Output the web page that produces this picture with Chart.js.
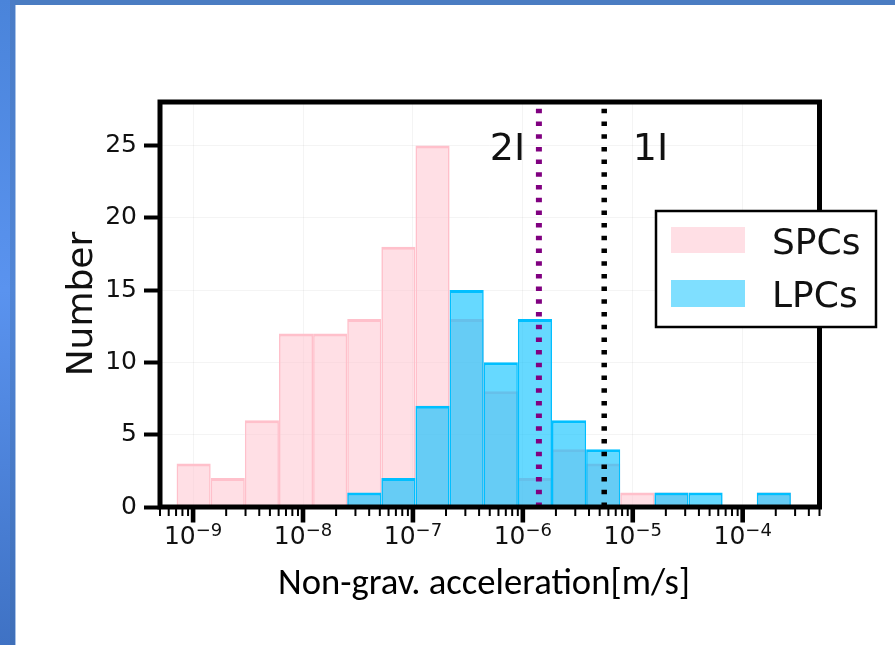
<!DOCTYPE html>
<html>
<head>
<meta charset="utf-8">
<script src="https://cdn.jsdelivr.net/npm/chart.js@4"></script>
<style>
  html, body { margin: 0; padding: 0; }
  body { width: 895px; height: 645px; position: relative; overflow: hidden; background: #fff; }
  #topBand { position: absolute; left: 0; top: 0; width: 895px; height: 5px; background: #4a7cc2; }
  #leftBand { position: absolute; left: 0; top: 0; width: 10px; height: 645px; background: linear-gradient(#4a84da, #5a93ef 45%, #3f72c4); }
  #leftEdge { position: absolute; left: 10px; top: 0; width: 5px; height: 645px; background: linear-gradient(#4a7cc6, #5286d6 45%, #3f6fb8); }
  #leftLine { position: absolute; left: 15px; top: 5px; width: 1px; height: 640px; background: #a9c3e8; }
  canvas { position: absolute; left: 0; top: 0; }
</style>
</head>
<body>
<div id="topBand"></div>
<div id="leftBand"></div>
<div id="leftEdge"></div>
<div id="leftLine"></div>
<canvas id="histChart" width="895" height="645"></canvas>
<script>
// histogram bin edges, as log10 of acceleration
const binEdgeExp = [-9.150, -8.840, -8.529, -8.219, -7.908, -7.598, -7.287, -6.977, -6.666,
  -6.356, -6.045, -5.735, -5.424, -5.114, -4.803, -4.493, -4.182, -3.872, -3.561];
const spcCounts = [3, 2, 6, 12, 12, 13, 18, 25, 13, 8, 2, 4, 3, 1, 1, 0, 0, 1];
const lpcCounts = [0, 0, 0, 0, 0, 1, 2, 7, 15, 10, 13, 6, 4, 0, 1, 1, 0, 1];
const seriesNames = ["SPCs", "LPCs"];

const markerNames = ["2I", "1I"];
const markerValues = [1.4e-6, 5.5e-6];

const xTickExps = [-9, -8, -7, -6, -5, -4];
const yTicks = [0, 5, 10, 15, 20, 25];
const xTitle = "Non-grav. acceleration[m/s]";
const yTitle = "Number";

const binCenters = binEdgeExp.slice(0, -1).map((e, i) => Math.pow(10, (e + binEdgeExp[i + 1]) / 2));
const toPoints = counts => binCenters.map((x, i) => ({ x, y: counts[i] === 0 ? null : counts[i] }));

const PINK = "255,192,203";
const BLUE = "0,191,255";
const TEXT = "#111";

const barStyle = {
  type: "bar",
  barPercentage: 1,
  categoryPercentage: 1,
  grouped: false,
  borderSkipped: false,
  borderWidth: { top: 3, left: 1.6, right: 1.6, bottom: 0 },
  inflateAmount: 0
};

const decor = {
  id: "decor",
  afterDraw(chart) {
    const { ctx, chartArea: a, scales: { x, y } } = chart;
    ctx.save();

    // spines
    ctx.strokeStyle = "#000";
    ctx.lineWidth = 5;
    ctx.strokeRect(a.left, a.top, a.right - a.left, a.bottom - a.top);

    // x ticks, major and minor
    ctx.fillStyle = "#000";
    for (let e = -10; e <= -4; e++) {
      for (let m = 1; m <= 9; m++) {
        const v = m * Math.pow(10, e);
        if (v < x.min * 0.999 || v > x.max * 1.001) continue;
        const px = x.getPixelForValue(v);
        if (m === 1) ctx.fillRect(px - 2.3, a.bottom, 4.6, 15.5);
        else ctx.fillRect(px - 1, a.bottom, 2, 9);
      }
    }

    // x tick labels with superscript exponents
    ctx.fillStyle = TEXT;
    xTickExps.forEach(e => {
      const px = x.getPixelForValue(Math.pow(10, e));
      const base = "10", sup = "\u2212" + Math.abs(e);
      ctx.font = "25px 'DejaVu Sans'";
      const wb = ctx.measureText(base).width;
      ctx.font = "18px 'DejaVu Sans'";
      const ws = ctx.measureText(sup).width;
      const x0 = px - (wb + ws) / 2;
      ctx.textAlign = "left";
      ctx.textBaseline = "alphabetic";
      ctx.font = "25px 'DejaVu Sans'";
      ctx.fillText(base, x0, 544);
      ctx.font = "18px 'DejaVu Sans'";
      ctx.fillText(sup, x0 + wb, 535.5);
    });

    // 2I / 1I labels
    ctx.font = "38px 'DejaVu Sans'";
    ctx.fillText(markerNames[0], x.getPixelForValue(5e-7), y.getPixelForValue(24));
    ctx.fillText(markerNames[1], x.getPixelForValue(1e-5), y.getPixelForValue(24));

    // legend
    ctx.fillStyle = "#fff";
    ctx.fillRect(656, 211, 220, 116);
    ctx.lineWidth = 2.5;
    ctx.strokeStyle = "#000";
    ctx.strokeRect(656, 211, 220, 116);
    ctx.fillStyle = `rgba(${PINK},0.5)`;
    ctx.fillRect(671, 227, 74, 26);
    ctx.fillStyle = `rgba(${BLUE},0.5)`;
    ctx.fillRect(671, 280, 74, 27);
    ctx.fillStyle = TEXT;
    ctx.font = "36px 'DejaVu Sans'";
    ctx.fillText(seriesNames[0], 772, 254);
    ctx.fillText(seriesNames[1], 772, 307);

    // y title
    ctx.save();
    ctx.translate(91.5, 304);
    ctx.rotate(-Math.PI / 2);
    ctx.textAlign = "center";
    ctx.font = "36px 'DejaVu Sans'";
    ctx.fillText(yTitle, 0, 0);
    ctx.restore();

    // x title, fitted to the measured width
    ctx.fillStyle = "#000";
    ctx.font = "24px Carlito, Calibri, Lato, sans-serif";
    const tw = ctx.measureText(xTitle).width;
    const fs = 24 * 412 / tw;
    ctx.font = fs.toFixed(2) + "px Carlito, Calibri, Lato, sans-serif";
    ctx.textAlign = "center";
    ctx.fillText(xTitle, 484, 594);

    ctx.restore();
  }
};

new Chart(document.getElementById("histChart"), {
  type: "bar",
  data: {
    datasets: [
      {
        ...barStyle,
        label: seriesNames[0],
        data: toPoints(spcCounts),
        backgroundColor: `rgba(${PINK},0.5)`,
        borderColor: `rgb(${PINK})`,
        order: 4
      },
      {
        ...barStyle,
        label: seriesNames[1],
        data: toPoints(lpcCounts),
        backgroundColor: `rgba(${BLUE},0.6)`,
        borderColor: `rgb(${BLUE})`,
        order: 3
      },
      {
        type: "line",
        label: markerNames[0],
        data: [{ x: markerValues[0], y: 0 }, { x: markerValues[0], y: 28 }],
        borderColor: "#800080",
        borderWidth: 6,
        borderDash: [4.5, 8.2],
        borderCapStyle: "butt",
        pointRadius: 0,
        order: 2
      },
      {
        type: "line",
        label: markerNames[1],
        data: [{ x: markerValues[1], y: 0 }, { x: markerValues[1], y: 28 }],
        borderColor: "#000",
        borderWidth: 5.5,
        borderDash: [4.5, 8.2],
        borderCapStyle: "butt",
        pointRadius: 0,
        order: 1
      }
    ]
  },
  options: {
    responsive: false,
    animation: false,
    layout: { padding: { left: 0, top: 102, right: 75.5, bottom: 0 } },
    plugins: { legend: { display: false }, tooltip: { enabled: false } },
    scales: {
      x: {
        type: "logarithmic",
        min: 5e-10,
        max: 5e-4,
        bounds: "data",
        offset: false,
        afterBuildTicks: s => { s.ticks = xTickExps.map(e => ({ value: Math.pow(10, e) })); },
        afterFit: s => { s.height = 138; },
        ticks: { display: false },
        grid: { color: "rgba(0,0,0,0.045)", lineWidth: 1, drawTicks: false, offset: false },
        border: { display: false }
      },
      y: {
        type: "linear",
        min: 0,
        max: 28,
        bounds: "data",
        afterBuildTicks: s => { s.ticks = yTicks.map(v => ({ value: v })); },
        afterFit: s => { s.width = 160; },
        ticks: { font: { family: "DejaVu Sans", size: 25 }, color: TEXT, padding: 7 },
        grid: { color: "rgba(0,0,0,0.045)", lineWidth: 1, tickColor: "#000", tickWidth: 4, tickLength: 16 },
        border: { display: false }
      }
    }
  },
  plugins: [decor]
});
</script>
</body>
</html>
